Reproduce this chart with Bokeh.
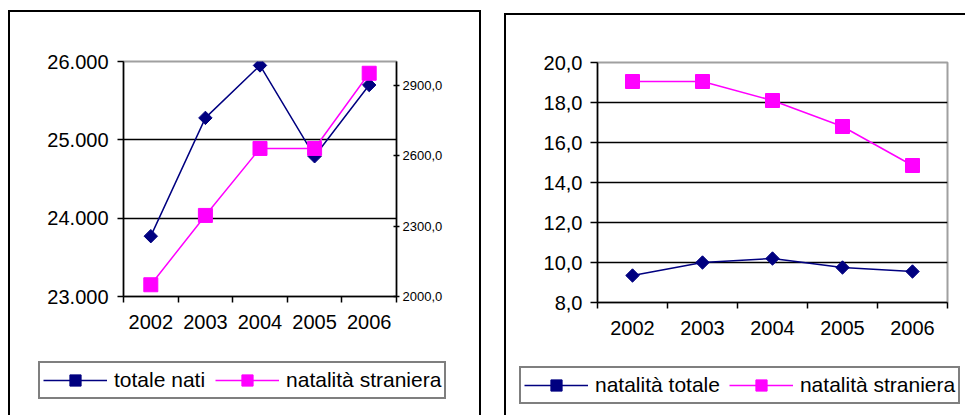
import math
from bokeh.plotting import figure
from bokeh.models import Range1d, LinearAxis, FixedTicker, Legend, LegendItem
from bokeh.embed import file_html
from bokeh.resources import INLINE

# ---------------- data ----------------
years = [2002, 2003, 2004, 2005, 2006]
year_labels = ["2002", "2003", "2004", "2005", "2006"]

# left chart
totale_nati = [23770, 25280, 25950, 24790, 25700]
natalita_straniera_abs = [2050, 2345, 2630, 2630, 2950]
left_ticks = [23000, 24000, 25000, 26000]
left_tick_labels = ["23.000", "24.000", "25.000", "26.000"]
right_ticks = [2000, 2300, 2600, 2900]
right_tick_labels = ["2000,0", "2300,0", "2600,0", "2900,0"]

# right chart
natalita_totale = [9.35, 10.0, 10.2, 9.75, 9.55]
natalita_straniera = [19.05, 19.05, 18.1, 16.8, 14.85]
rate_ticks = [8, 10, 12, 14, 16, 18, 20]
rate_tick_labels = ["8,0", "10,0", "12,0", "14,0", "16,0", "18,0", "20,0"]

NAVY = "#000080"
MAGENTA = "#FF00FF"
FONT = "Liberation Sans"

boundaries = [y - 0.5 for y in years] + [years[-1] + 0.5]


def style_axis(ax, size, standoff):
    ax.axis_line_color = "black"
    ax.axis_line_width = 1.5
    ax.major_tick_line_color = "black"
    ax.major_tick_line_width = 1.5
    ax.minor_tick_line_color = "black"
    ax.minor_tick_line_width = 1.5
    ax.major_label_text_font = FONT
    ax.major_label_text_font_size = size
    ax.major_label_text_color = "black"
    ax.major_label_standoff = standoff


def style_xaxis(p, standoff):
    ax = p.xaxis[0]
    ax.ticker = FixedTicker(ticks=years, minor_ticks=boundaries)
    ax.major_label_overrides = dict(zip(years, year_labels))
    style_axis(ax, "20px", standoff)
    ax.major_tick_in = 0
    ax.major_tick_out = 0
    ax.minor_tick_in = 0
    ax.minor_tick_out = 6


def place(left, top, sides):
    parts = []
    if "left" in sides:
        parts.append("inset 2px 0 0 0 #000")
    if "right" in sides:
        parts.append("inset -2px 0 0 0 #000")
    if "top" in sides:
        parts.append("inset 0 2px 0 0 #000")
    st = {"position": "absolute", "left": f"{left}px", "top": f"{top}px"}
    if parts:
        st["box-shadow"] = ", ".join(parts)
    return st


def legend_figure(width, height, left, top, sides, labels, series, loc,
                  glyph_w, spacing):
    """Figure carrying only the legend box; its frame is the whole canvas and the
    proxy series lie outside its ranges, so only the legend shows."""
    q = figure(width=width, height=height, x_range=Range1d(0, 1), y_range=Range1d(0, 1),
               output_backend="svg", toolbar_location=None,
               x_axis_location=None, y_axis_location=None,
               min_border=0, border_fill_color=None,
               styles=place(left, top, sides))
    q.outline_line_color = None
    q.background_fill_color = None
    q.xgrid.visible = False
    q.ygrid.visible = False
    a1 = q.line(years, series[0], line_color=NAVY, line_width=1.5)
    b1 = q.scatter(years, series[0], marker="square", angle=math.pi / 4, size=9,
                   fill_color=NAVY, line_color=NAVY)
    a2 = q.line(years, series[1], line_color=MAGENTA, line_width=1.5)
    b2 = q.scatter(years, series[1], marker="square", size=13,
                   fill_color=MAGENTA, line_color=MAGENTA)
    leg = Legend(
        items=[LegendItem(label=labels[0], renderers=[a1, b1]),
               LegendItem(label=labels[1], renderers=[a2, b2])],
        orientation="horizontal", location=loc,
        glyph_width=glyph_w, glyph_height=28, label_height=20,
        label_standoff=7, spacing=spacing, padding=3, margin=0,
        border_line_color="black", border_line_width=2,
        label_text_font=FONT, label_text_font_size="21px",
        label_text_color="black", background_fill_color="white",
        background_fill_alpha=1.0,
    )
    q.add_layout(leg, "center")
    return q


# ---------------- left chart ----------------
H1 = 345
p1 = figure(
    width=473, height=H1,
    x_range=Range1d(years[0] - 0.5, years[-1] + 0.5),
    y_range=Range1d(left_ticks[0], left_ticks[-1]),
    output_backend="svg", toolbar_location=None,
    min_border_left=115, min_border_top=51, min_border_right=85,
    min_border_bottom=H1 - 51 - 235,
    border_fill_color=None,
    styles=place(8, 10, ["left", "right", "top"]),
)
p1.extra_y_ranges = {"r": Range1d(right_ticks[0], 3000)}
p1.background_fill_color = "white"
p1.outline_line_color = "#a0a0a0"
p1.outline_line_width = 2
p1.xgrid.visible = False
p1.ygrid.ticker = FixedTicker(ticks=left_ticks[1:-1])
p1.ygrid.grid_line_color = "black"
p1.ygrid.grid_line_width = 1.5

style_xaxis(p1, 12)
ly = p1.yaxis[0]
ly.ticker = FixedTicker(ticks=left_ticks)
ly.major_label_overrides = dict(zip(left_ticks, left_tick_labels))
style_axis(ly, "20px", 9)
ly.major_tick_in = 0
ly.major_tick_out = 6
ly.minor_tick_out = 0
ly.minor_tick_in = 0

ry = LinearAxis(y_range_name="r", ticker=FixedTicker(ticks=right_ticks))
ry.major_label_overrides = dict(zip(right_ticks, right_tick_labels))
style_axis(ry, "13px", 3)
ry.major_tick_in = 3
ry.major_tick_out = 3
ry.minor_tick_in = 0
ry.minor_tick_out = 0
p1.add_layout(ry, "right")

p1.line(years, totale_nati, line_color=NAVY, line_width=1.5)
p1.scatter(years, totale_nati, marker="square", angle=math.pi / 4, size=9.5,
           fill_color=NAVY, line_color=NAVY)
p1.line(years, natalita_straniera_abs, line_color=MAGENTA, line_width=1.5, y_range_name="r")
p1.scatter(years, natalita_straniera_abs, marker="square", size=14,
           fill_color=MAGENTA, line_color=MAGENTA, y_range_name="r")

pl1 = legend_figure(473, 60, 8, 355, ["left", "right"],
                    ["totale nati", "natalità straniera"],
                    [totale_nati, natalita_straniera_abs], (30, 16), 64, 10)

# ---------------- right chart ----------------
H2 = 344
p2 = figure(
    width=461, height=H2,
    x_range=Range1d(years[0] - 0.5, years[-1] + 0.5),
    y_range=Range1d(rate_ticks[0], rate_ticks[-1]),
    output_backend="svg", toolbar_location=None,
    min_border_left=93, min_border_top=49, min_border_right=18,
    min_border_bottom=H2 - 49 - 240,
    border_fill_color=None,
    styles=place(504, 13, ["left", "top"]),
)
p2.background_fill_color = "white"
p2.outline_line_color = "#a0a0a0"
p2.outline_line_width = 2
p2.xgrid.visible = False
p2.ygrid.ticker = FixedTicker(ticks=rate_ticks[1:-1])
p2.ygrid.grid_line_color = "black"
p2.ygrid.grid_line_width = 1.5

style_xaxis(p2, 12)
ay = p2.yaxis[0]
ay.ticker = FixedTicker(ticks=rate_ticks)
ay.major_label_overrides = dict(zip(rate_ticks, rate_tick_labels))
style_axis(ay, "20px", 8)
ay.major_tick_in = 0
ay.major_tick_out = 7
ay.minor_tick_in = 0
ay.minor_tick_out = 0

p2.line(years, natalita_totale, line_color=NAVY, line_width=1.5)
p2.scatter(years, natalita_totale, marker="square", angle=math.pi / 4, size=9.5,
           fill_color=NAVY, line_color=NAVY)
p2.line(years, natalita_straniera, line_color=MAGENTA, line_width=1.5)
p2.scatter(years, natalita_straniera, marker="square", size=14,
           fill_color=MAGENTA, line_color=MAGENTA)

pl2 = legend_figure(461, 58, 504, 357, ["left"],
                    ["natalità totale", "natalità straniera"],
                    [natalita_totale, natalita_straniera], (15, 11), 64, 9)

open("out.html", "w").write(file_html([p1, pl1, p2, pl2], INLINE))
